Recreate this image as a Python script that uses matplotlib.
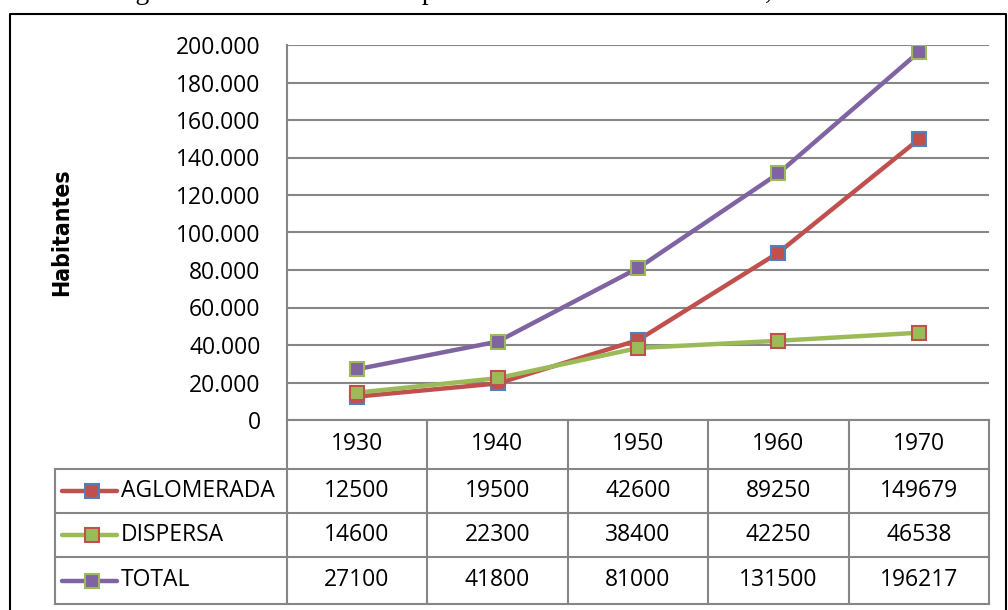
import numpy as np
import matplotlib.pyplot as plt
from matplotlib.lines import Line2D

# datos de la tabla
years = ['1930', '1940', '1950', '1960', '1970']
series = ['AGLOMERADA', 'DISPERSA', 'TOTAL']
aglomerada = [12500, 19500, 42600, 89250, 149679]
dispersa = [14600, 22300, 38400, 42250, 46538]
total = [27100, 41800, 81000, 131500, 196217]
values = [aglomerada, dispersa, total]
yticks = [0, 20000, 40000, 60000, 80000, 100000, 120000, 140000, 160000, 180000, 200000]
ytick_labels = ['0', '20.000', '40.000', '60.000', '80.000', '100.000', '120.000',
                '140.000', '160.000', '180.000', '200.000']

line_colors = ['#C0504D', '#9BBB59', '#8064A2']
edge_colors = ['#4F81BD', '#C0504D', '#9BBB59']
grid_c = '#868686'

W, H = 1008, 610
fig = plt.figure(figsize=(W / 100, H / 100), dpi=100)

def box(x0, y0, x1, y1):
    return [x0 / W, 1 - y1 / H, (x1 - x0) / W, (y1 - y0) / H]

# marco exterior
frame = fig.add_axes([0, 0, 1, 1])
frame.set_xlim(0, W)
frame.set_ylim(H, 0)
frame.axis('off')
frame.plot([10, 10, 1006, 1006], [H + 5, 14, 14, H + 5], color='black', lw=1.5)

# titulo recortado (solo se ve la parte de abajo)
fig.text(112 / W, 1 + 1 / H,
         'Figura 3.3. Evolución de la población de Montevideo rural, 1930 - 1970.',
         family='Liberation Serif', fontsize=20, va='baseline', ha='left')

# grafico
ax = fig.add_axes(box(287, 45, 989, 420))
x = np.arange(len(years)) + 0.5
for vals, lc, ec in zip(values, line_colors, edge_colors):
    ax.plot(x, vals, color=lc, lw=3.2, marker='s', markersize=9.5,
            markerfacecolor=lc, markeredgecolor=ec, markeredgewidth=1.5,
            solid_capstyle='round')
ax.set_xlim(0, len(years))
ax.set_ylim(0, 200000)
ax.set_yticks(yticks)
ax.set_yticklabels(ytick_labels, family='Open Sans', fontsize=16.5)
ax.set_xticks([])
ax.tick_params(axis='y', length=0, pad=19)
ax.grid(axis='y', color=grid_c, lw=1.5)
ax.set_axisbelow(True)
for s in ['top', 'right', 'bottom']:
    ax.spines[s].set_visible(False)
ax.spines['left'].set_color(grid_c)
ax.spines['left'].set_linewidth(1.5)

fig.text(62 / W, 1 - 232 / H, 'Habitantes', rotation=90, ha='center', va='center',
         family=['Liberation Sans Narrow', 'DejaVu Sans'], fontstretch='condensed',
         fontweight='bold', fontsize=16.5)

# tabla de datos
tab = fig.add_axes(box(55, 420, 989, 604))
tab.set_xlim(-1.65, len(years))
row_edges = [0, 49, 93, 137, 184]
tab.set_ylim(row_edges[-1], 0)
tab.axis('off')
tk = dict(color=grid_c, lw=1.5, clip_on=False)
tab.plot([0, len(years)], [0, 0], **tk)
for yy in row_edges[1:]:
    tab.plot([-1.65, len(years)], [yy, yy], **tk)
for i in range(len(years) + 1):
    tab.plot([i, i], [0, row_edges[-1]], **tk)
tab.plot([-1.65, -1.65], [row_edges[1], row_edges[-1]], **tk)

for i, yr in enumerate(years):
    tab.text(i + 0.5, (row_edges[0] + row_edges[1]) / 2, yr, ha='center', va='center',
             family='Open Sans', fontsize=16.5)
for r, (name, vals) in enumerate(zip(series, values)):
    yc = (row_edges[r + 1] + row_edges[r + 2]) / 2
    tab.add_line(Line2D([-1.6, -1.21], [yc, yc], color=line_colors[r], lw=3.2,
                        solid_capstyle='round', clip_on=False))
    tab.plot([-1.385], [yc], marker='s', markersize=9.5, color=line_colors[r],
             markeredgecolor=edge_colors[r], markeredgewidth=1.5, clip_on=False)
    tab.text(-1.18, yc, name, ha='left', va='center', family='Open Sans', fontsize=16.5)
    for i, v in enumerate(vals):
        tab.text(i + 0.5, yc, str(v), ha='center', va='center',
                 family='Open Sans', fontsize=16.5)

fig.savefig('out.png', dpi=100)
